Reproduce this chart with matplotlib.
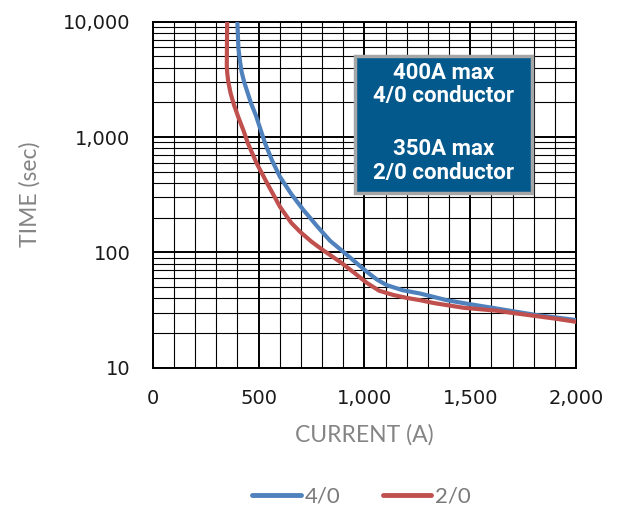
import matplotlib
matplotlib.use("Agg")
import matplotlib.pyplot as plt
from matplotlib.patches import Rectangle
from matplotlib.ticker import FuncFormatter, MultipleLocator, LogLocator, NullFormatter

# Data
current_40 = [400, 402, 405, 412, 420, 432, 447, 465, 487, 507, 531, 565, 601, 655, 712, 743, 775, 838, 901, 1011, 1060, 1106, 1180, 1263, 1389, 1500, 1625, 1720, 1814, 1910, 2000]
time_40 = [10000, 8000, 5880, 4600, 3680, 3000, 2470, 1950, 1550, 1200, 881, 620, 453, 320, 233, 200, 170, 126, 101, 68, 58, 52, 47, 44, 38.5, 35.5, 32.6, 30.5, 28.6, 27.2, 25.9]

current_20 = [352, 351, 350, 352, 357, 368, 384, 405, 428, 450, 491, 540, 601, 655, 696, 750, 800, 885, 950, 1011, 1070, 1137, 1200, 1263, 1330, 1468, 1625, 1720, 1814, 1910, 2000]
time_20 = [10000, 7000, 4200, 3600, 3020, 2400, 1900, 1480, 1150, 881, 592, 400, 249, 180, 151, 124, 106, 82.8, 67, 54.5, 46.5, 42.7, 40.3, 38.5, 36.3, 33.1, 31.2, 29.5, 28, 26.5, 25]

series_labels = ["4/0", "2/0"]
box_lines = ["400A max", "4/0 conductor", "350A max", "2/0 conductor"]

fig = plt.figure(figsize=(6.2, 5.08), dpi=100)
ax = fig.add_axes([152.7 / 620, 1 - 367.7 / 508, 423.3 / 620, 346 / 508])

ax.plot(current_40, time_40, color="#4F81BD", lw=3.0, label=series_labels[0],
        solid_capstyle="round", solid_joinstyle="round", zorder=3)
ax.plot(current_20, time_20, color="#C0504D", lw=3.0, label=series_labels[1],
        solid_capstyle="round", solid_joinstyle="round", zorder=3)

ax.set_yscale("log")
ax.set_xlim(0, 2000)
ax.set_ylim(10, 10000)

ax.xaxis.set_major_locator(MultipleLocator(500))
ax.xaxis.set_minor_locator(MultipleLocator(100))
ax.yaxis.set_major_locator(LogLocator(base=10))
ax.yaxis.set_minor_locator(LogLocator(base=10, subs=range(2, 10)))
ax.yaxis.set_minor_formatter(NullFormatter())
ax.xaxis.set_major_formatter(FuncFormatter(lambda v, p: f"{int(v):,}"))
ax.yaxis.set_major_formatter(FuncFormatter(lambda v, p: f"{int(round(v)):,}"))

ax.grid(which="major", color="black", lw=1.4, zorder=0)
ax.grid(which="minor", color="black", lw=0.8, zorder=0)
ax.set_axisbelow(True)
for s in ax.spines.values():
    s.set_color("black")
    s.set_linewidth(1.4)

ax.tick_params(which="both", length=0, labelsize=14, colors="#1a1a1a")
ax.tick_params(axis="x", pad=15)
ax.tick_params(axis="y", pad=16)

label_font = dict(fontsize=16.5, color="#858585", family=["Lato", "DejaVu Sans"])
ax.set_ylabel("TIME (sec)", labelpad=16, **label_font)
ax.set_xlabel("CURRENT (A)", labelpad=12, **label_font)

# annotation box
ax.add_patch(Rectangle((0.478, 0.504), 0.417, 0.397, transform=ax.transAxes,
                       facecolor="#03588C", edgecolor="#A6A6A6", lw=2.5, zorder=5))
line_y = [0.853, 0.784, 0.631, 0.563]
for txt, yy in zip(box_lines, line_y):
    ax.text(0.687, yy, txt, transform=ax.transAxes, ha="center", va="center",
            fontsize=16, fontweight="bold", color="white",
            family=["Roboto", "DejaVu Sans"], zorder=6)

leg = fig.legend(loc="center", bbox_to_anchor=(0.583, 0.022), ncol=2, frameon=False,
                 handlelength=2.2, columnspacing=1.9, handletextpad=0.15,
                 prop=dict(family=["Lato", "DejaVu Sans"], size=16),
                 labelcolor="#7a7a7a")
for h in leg.legend_handles:
    h.set_linewidth(3.5)

fig.savefig("out.png", dpi=100)
